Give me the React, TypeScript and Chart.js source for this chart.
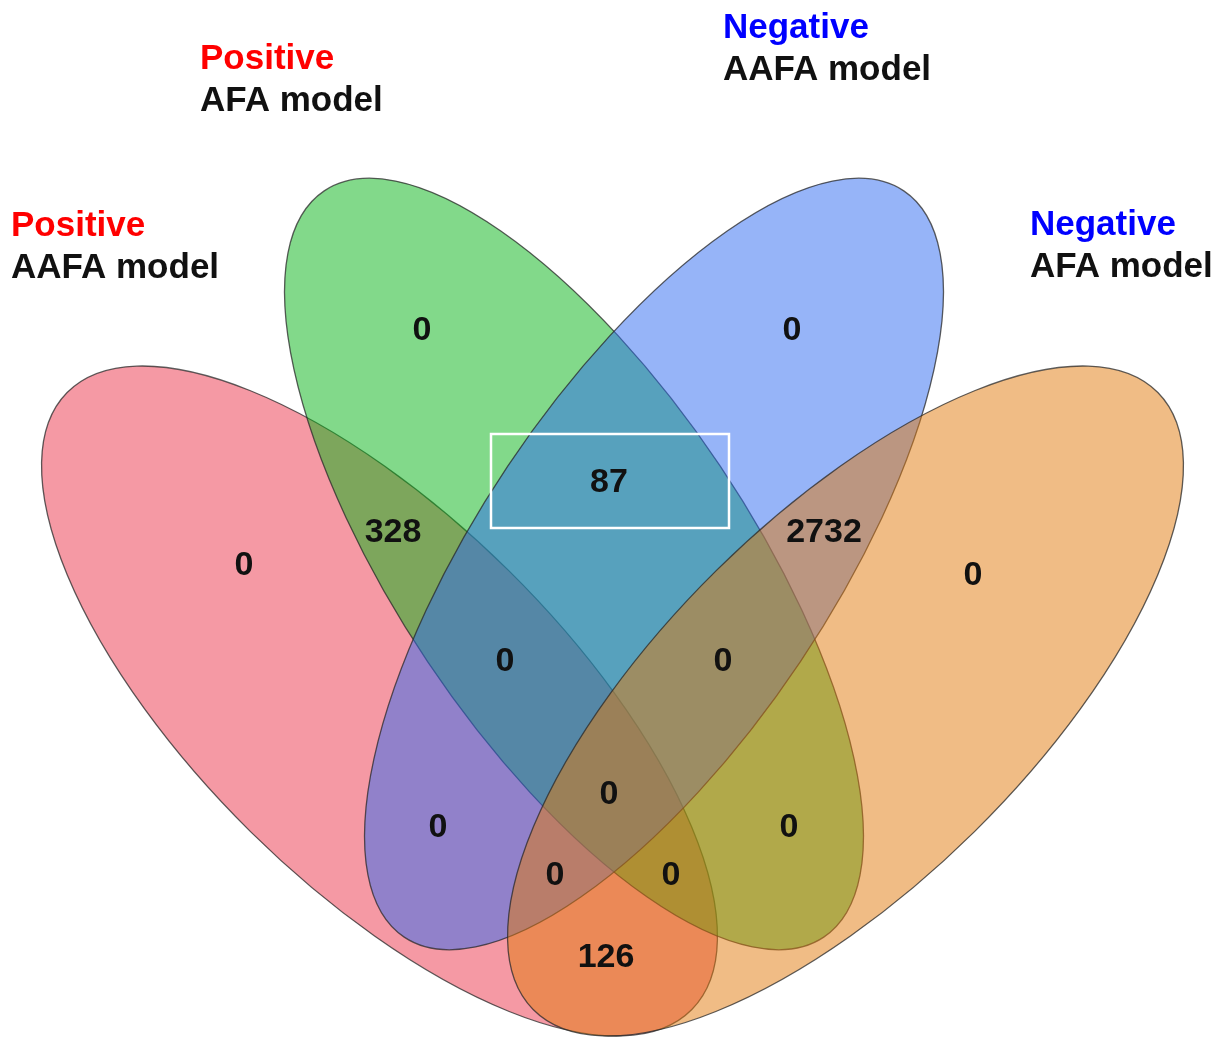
import { useEffect, useRef } from "react";
import { Chart, registerables } from "chart.js";

Chart.register(...registerables);

// ---- Sets (draw order: red, green, blue, orange) ----
const setHeads = ["Positive", "Positive", "Negative", "Negative"];
const setModels = ["AAFA model", "AFA model", "AAFA model", "AFA model"];
const setHeadColors = ["#ff0000", "#ff0000", "#0000ff", "#0000ff"];
const setFills = ["rgba(235,51,73,0.5)", "rgba(5,179,21,0.5)", "rgba(45,105,241,0.5)", "rgba(225,121,11,0.5)"];

// ellipse geometry in chart units
const ellipseCX = [379.5, 574, 654, 845.5];
const ellipseCY = [701, 564, 564, 701];
const ellipseA = [439, 449, 449, 439];
const ellipseB = [183.6, 176, 176, 183.6];
const ellipseAngle = [44.64, 56.2, 123.8, 135.36];

// set label anchors (left x, baseline of first line)
const setLabelX = [11, 200, 723, 1030];
const setLabelY = [236, 69, 38, 235];

// ---- Region counts ----
const regionCounts = [0, 0, 87, 328, 2732, 0, 0, 0, 0, 0, 0, 0, 0, 0, 126];
const regionX = [422, 792, 609, 393, 824, 244, 973, 505, 723, 609, 438, 789, 555, 671, 606];
const regionY = [328, 328, 480, 530, 530, 563, 573, 659, 659, 792, 825, 825, 873, 873, 955];

// highlight box around the 87 region
const boxX = [491, 729];
const boxY = [434, 528];

const LABEL_FONT = "bold 35px 'Liberation Sans', Arial, sans-serif";
const COUNT_FONT = "bold 34px 'Liberation Sans', Arial, sans-serif";

const vennPlugin = {
  id: "venn",
  beforeDatasetsDraw(chart: any) {
    const { ctx } = chart;
    const xs = chart.scales.x;
    const ys = chart.scales.y;
    ctx.save();
    for (let i = 0; i < ellipseCX.length; i++) {
      const cx = xs.getPixelForValue(ellipseCX[i]);
      const cy = ys.getPixelForValue(ellipseCY[i]);
      const rx = Math.abs(xs.getPixelForValue(ellipseCX[i] + ellipseA[i]) - cx);
      const ry = Math.abs(xs.getPixelForValue(ellipseCX[i] + ellipseB[i]) - cx);
      ctx.beginPath();
      ctx.ellipse(cx, cy, rx, ry, (ellipseAngle[i] * Math.PI) / 180, 0, Math.PI * 2);
      ctx.fillStyle = setFills[i];
      ctx.fill();
      ctx.lineWidth = 1.3;
      ctx.strokeStyle = "rgba(40,40,40,0.75)";
      ctx.stroke();
    }
    // highlight box
    const x0 = xs.getPixelForValue(boxX[0]);
    const x1 = xs.getPixelForValue(boxX[1]);
    const y0 = ys.getPixelForValue(boxY[0]);
    const y1 = ys.getPixelForValue(boxY[1]);
    ctx.lineWidth = 2.5;
    ctx.strokeStyle = "#ffffff";
    ctx.strokeRect(x0, y0, x1 - x0, y1 - y0);

    // set labels
    ctx.font = LABEL_FONT;
    ctx.textAlign = "left";
    ctx.textBaseline = "alphabetic";
    for (let i = 0; i < setHeads.length; i++) {
      const lx = xs.getPixelForValue(setLabelX[i]);
      const ly = ys.getPixelForValue(setLabelY[i]);
      ctx.fillStyle = setHeadColors[i];
      ctx.fillText(setHeads[i], lx, ly);
      ctx.fillStyle = "#111111";
      ctx.fillText(setModels[i], lx, ly + 42);
    }
    ctx.restore();
  },
  afterDatasetsDraw(chart: any) {
    const { ctx } = chart;
    const meta = chart.getDatasetMeta(0);
    ctx.save();
    ctx.font = COUNT_FONT;
    ctx.textAlign = "center";
    ctx.textBaseline = "alphabetic";
    ctx.fillStyle = "#111111";
    meta.data.forEach((el: any, i: number) => {
      // baseline placed so the digits' visual centre sits on the point
      ctx.fillText(String(regionCounts[i]), el.x, el.y + 12);
    });
    ctx.restore();
  },
};

export default function App() {
  const ref = useRef<HTMLCanvasElement | null>(null);
  useEffect(() => {
    if (!ref.current) return;
    const chart = new Chart(ref.current, {
      type: "scatter",
      data: {
        datasets: [
          {
            label: "regions",
            data: regionX.map((x, i) => ({ x, y: regionY[i] })),
            pointRadius: 0,
            pointHoverRadius: 0,
          },
        ],
      },
      options: {
        animation: false,
        responsive: false,
        layout: { padding: 0 },
        scales: {
          x: { type: "linear", min: 0, max: 1223, display: false },
          y: { type: "linear", min: 0, max: 1039, reverse: true, display: false },
        },
        plugins: { legend: { display: false }, tooltip: { enabled: false } },
      },
      plugins: [vennPlugin],
    });
    return () => chart.destroy();
  }, []);
  return (
    <div style={{ position: "fixed", left: 0, top: 0, width: 1223, height: 1039, background: "#fff" }}>
      <canvas ref={ref} width={1223} height={1039} />
    </div>
  );
}
